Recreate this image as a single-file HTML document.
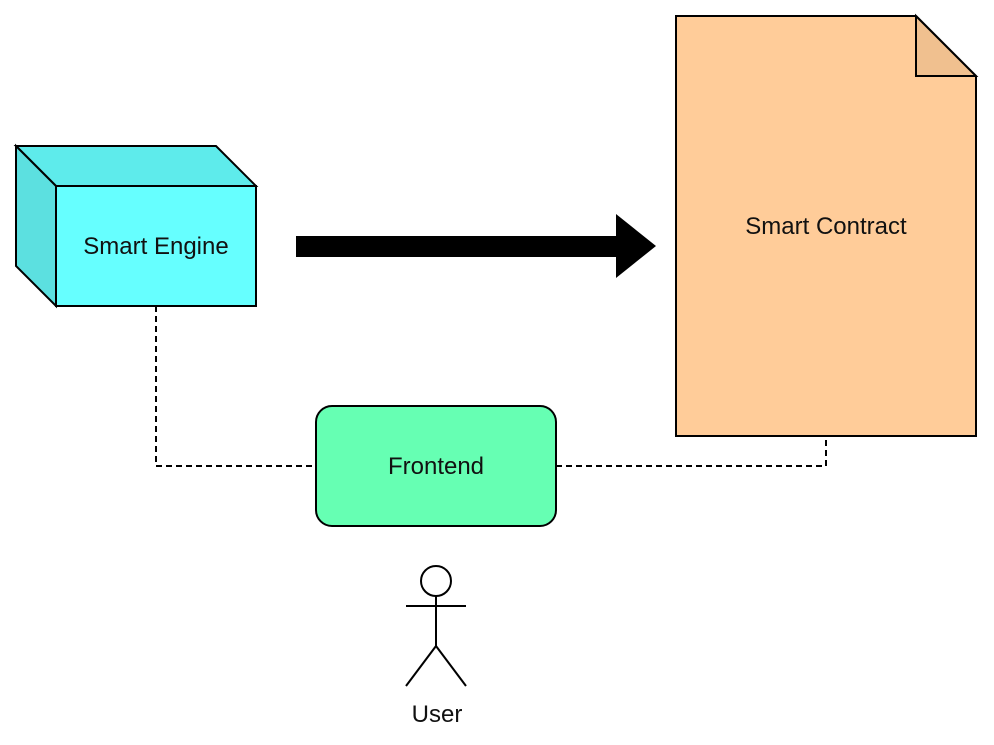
<!DOCTYPE html>
<html><head><style>body{margin:0;background:#fff}svg{display:block}</style></head>
<body>
<svg width="994" height="745" xmlns="http://www.w3.org/2000/svg" font-family="Liberation Sans, Arial, sans-serif" font-size="24">
<rect width="994" height="745" fill="#fff"/>
<path d="M156 306 V466 H316" fill="none" stroke="#000" stroke-width="2" stroke-dasharray="6 4"/>
<path d="M556 466 H826 V436" fill="none" stroke="#000" stroke-width="2" stroke-dasharray="6 4"/>
<polygon points="16,146 216,146 256,186 56,186" fill="#5EEBEB" stroke="#000" stroke-width="2"/>
<polygon points="16,146 56,186 56,306 16,266" fill="#5CE0E0" stroke="#000" stroke-width="2"/>
<rect x="56" y="186" width="200" height="120" fill="#66FFFF" stroke="#000" stroke-width="2"/>
<text x="156" y="254" text-anchor="middle" fill="#111">Smart Engine</text>
<polygon points="296,236 616,236 616,214 656,246 616,278 616,257 296,257" fill="#000"/>
<polygon points="676,16 916,16 976,76 976,436 676,436" fill="#FFCC99" stroke="#000" stroke-width="2"/>
<polygon points="916,16 976,76 916,76" fill="#F0C08F" stroke="#000" stroke-width="2"/>
<text x="826" y="234" text-anchor="middle" fill="#111">Smart Contract</text>
<rect x="316" y="406" width="240" height="120" rx="16" fill="#66FFB3" stroke="#000" stroke-width="2"/>
<text x="436" y="474" text-anchor="middle" fill="#111">Frontend</text>
<g stroke="#000" stroke-width="2" fill="none">
<circle cx="436" cy="581" r="15" fill="#fff"/>
<line x1="436" y1="596" x2="436" y2="646"/>
<line x1="406" y1="606" x2="466" y2="606"/>
<line x1="436" y1="646" x2="406" y2="686"/>
<line x1="436" y1="646" x2="466" y2="686"/>
</g>
<text x="437" y="722" text-anchor="middle" fill="#111">User</text>
</svg>
</body></html>
